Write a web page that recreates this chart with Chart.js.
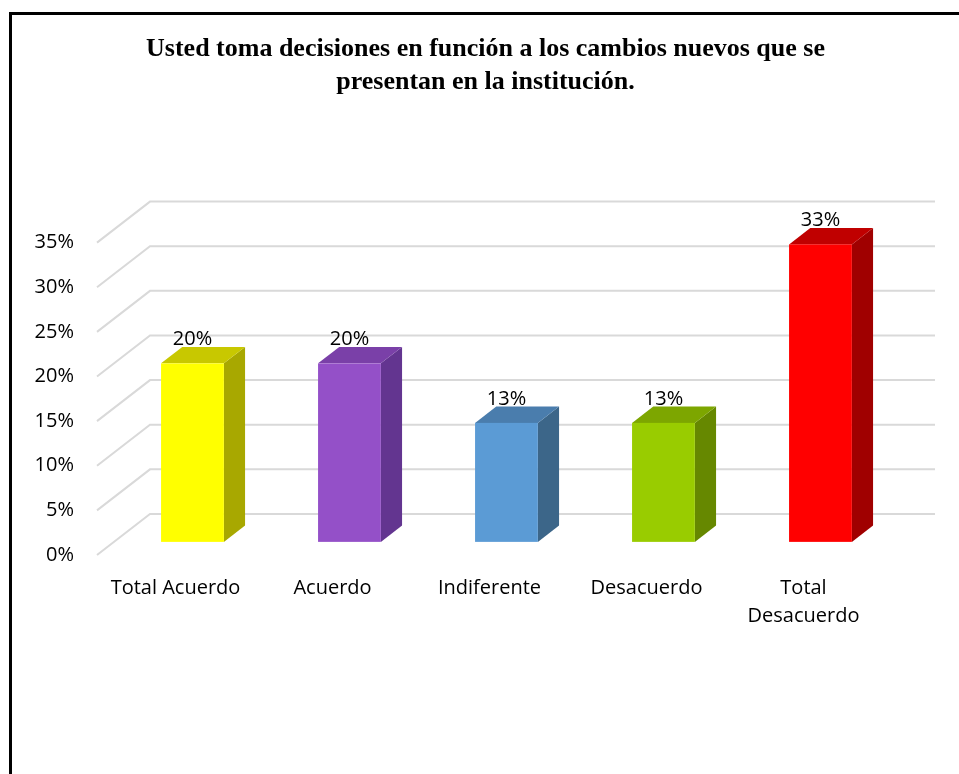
<!DOCTYPE html>
<html>
<head>
<meta charset="utf-8">
<script src="https://cdn.jsdelivr.net/npm/chart.js@4.4.0/dist/chart.umd.min.js"></script>
<style>
    html, body { margin: 0; padding: 0; background: #fff; }
    #frame {
        position: absolute; left: 9px; top: 12px;
        width: 947px; height: 759px;
        border-left: 3px solid #000; border-top: 3px solid #000;
    }
    #chart { display: block; }
</style>
</head>
<body>
<div id="frame">
    <canvas id="chart" width="947" height="759"></canvas>
</div>
<script>
// Data
const categories = ['Total Acuerdo', 'Acuerdo', 'Indiferente', 'Desacuerdo', ['Total', 'Desacuerdo']];
const percentages = [20, 20, 13.33, 13.33, 33.33];
const yTicks = [0, 5, 10, 15, 20, 25, 30, 35];

// Colours per bar: front, top, side
const frontColors = ['#FFFF00', '#9450C8', '#5B9BD5', '#99CC00', '#FF0000'];
const topColors = ['#C8C800', '#7A40A8', '#4A7DAD', '#7DA600', '#C00000'];
const sideColors = ['#A8A800', '#633590', '#3C6689', '#668800', '#A00000'];

// Fake 3D: back wall offset and bar depth
const DEPTH_X = 53, DEPTH_Y = -41;
const BAR_FRONT = 0.32, BAR_DEPTH = 0.4;

const bars3d = {
    id: 'bars3d',
    beforeDatasetsDraw: (chart) => {
        const ctx = chart.ctx;
        const area = chart.chartArea;
        const yScale = chart.scales.y;

        // perspective gridlines
        ctx.save();
        ctx.strokeStyle = '#D9D9D9';
        ctx.lineWidth = 2;
        yTicks.forEach(v => {
            const y = yScale.getPixelForValue(v);
            ctx.beginPath();
            ctx.moveTo(area.left, y);
            ctx.lineTo(area.left + DEPTH_X, y + DEPTH_Y);
            ctx.lineTo(area.right + DEPTH_X, y + DEPTH_Y);
            ctx.stroke();
        });
        ctx.restore();

        // bars as prisms
        const meta = chart.getDatasetMeta(0);
        meta.data.forEach((bar, i) => {
            const p = bar.getProps(['x', 'y', 'base', 'width'], true);
            const ox = DEPTH_X * BAR_FRONT, oy = DEPTH_Y * BAR_FRONT;
            const dx = DEPTH_X * BAR_DEPTH, dy = DEPTH_Y * BAR_DEPTH;
            const l = p.x - p.width / 2 + ox, r = p.x + p.width / 2 + ox;
            const t = p.y + oy, b = p.base + oy;

            ctx.save();
            // side
            ctx.fillStyle = sideColors[i];
            ctx.beginPath();
            ctx.moveTo(r, t); ctx.lineTo(r + dx, t + dy);
            ctx.lineTo(r + dx, b + dy); ctx.lineTo(r, b);
            ctx.closePath(); ctx.fill();
            // top
            ctx.fillStyle = topColors[i];
            ctx.beginPath();
            ctx.moveTo(l, t); ctx.lineTo(l + dx, t + dy);
            ctx.lineTo(r + dx, t + dy); ctx.lineTo(r, t);
            ctx.closePath(); ctx.fill();
            // front
            ctx.fillStyle = frontColors[i];
            ctx.fillRect(l, t, r - l, b - t);

            // value label
            ctx.fillStyle = '#000';
            ctx.font = '20px "Open Sans"';
            ctx.textAlign = 'center';
            ctx.textBaseline = 'alphabetic';
            ctx.fillText(Math.round(percentages[i]) + '%', (l + r) / 2, t + dy - 2);
            ctx.restore();
        });
        return false;
    }
};

new Chart(document.getElementById('chart'), {
    type: 'bar',
    data: {
        labels: categories,
        datasets: [{
            data: percentages,
            backgroundColor: frontColors,
            categoryPercentage: 1,
            barPercentage: 0.4
        }]
    },
    options: {
        responsive: false,
        animation: false,
        layout: { padding: { left: 0, right: 0, top: 0, bottom: 137 } },
        plugins: {
            legend: { display: false },
            tooltip: { enabled: false },
            title: {
                display: true,
                text: ['Usted toma decisiones en función a los cambios nuevos que se', 'presentan en la institución.'],
                color: '#000',
                font: { family: '"Liberation Serif", "Times New Roman", serif', size: 26, weight: 'bold', lineHeight: 1.3 },
                padding: { top: 17, bottom: 143 }
            }
        },
        scales: {
            x: {
                grid: { display: false, drawTicks: false },
                border: { display: false },
                ticks: {
                    color: '#000',
                    padding: 19,
                    maxRotation: 0,
                    font: { family: '"Open Sans", sans-serif', size: 20, lineHeight: 1.4 }
                },
                afterFit: (scale) => { scale.height = 82; }
            },
            y: {
                min: 0,
                max: 35,
                grid: { display: false, drawTicks: false },
                border: { display: false },
                ticks: {
                    stepSize: 5,
                    color: '#000',
                    padding: 23,
                    font: { family: '"Open Sans", sans-serif', size: 20 },
                    callback: (v) => v + '%'
                },
                afterFit: (scale) => { scale.width = 85; }
            },
            // empty right axis keeps room for the depth of the back wall
            yRight: {
                position: 'right',
                grid: { display: false, drawTicks: false },
                border: { display: false },
                ticks: { display: false },
                afterFit: (scale) => { scale.width = 77; }
            }
        }
    },
    plugins: [bars3d]
});
</script>
</body>
</html>
